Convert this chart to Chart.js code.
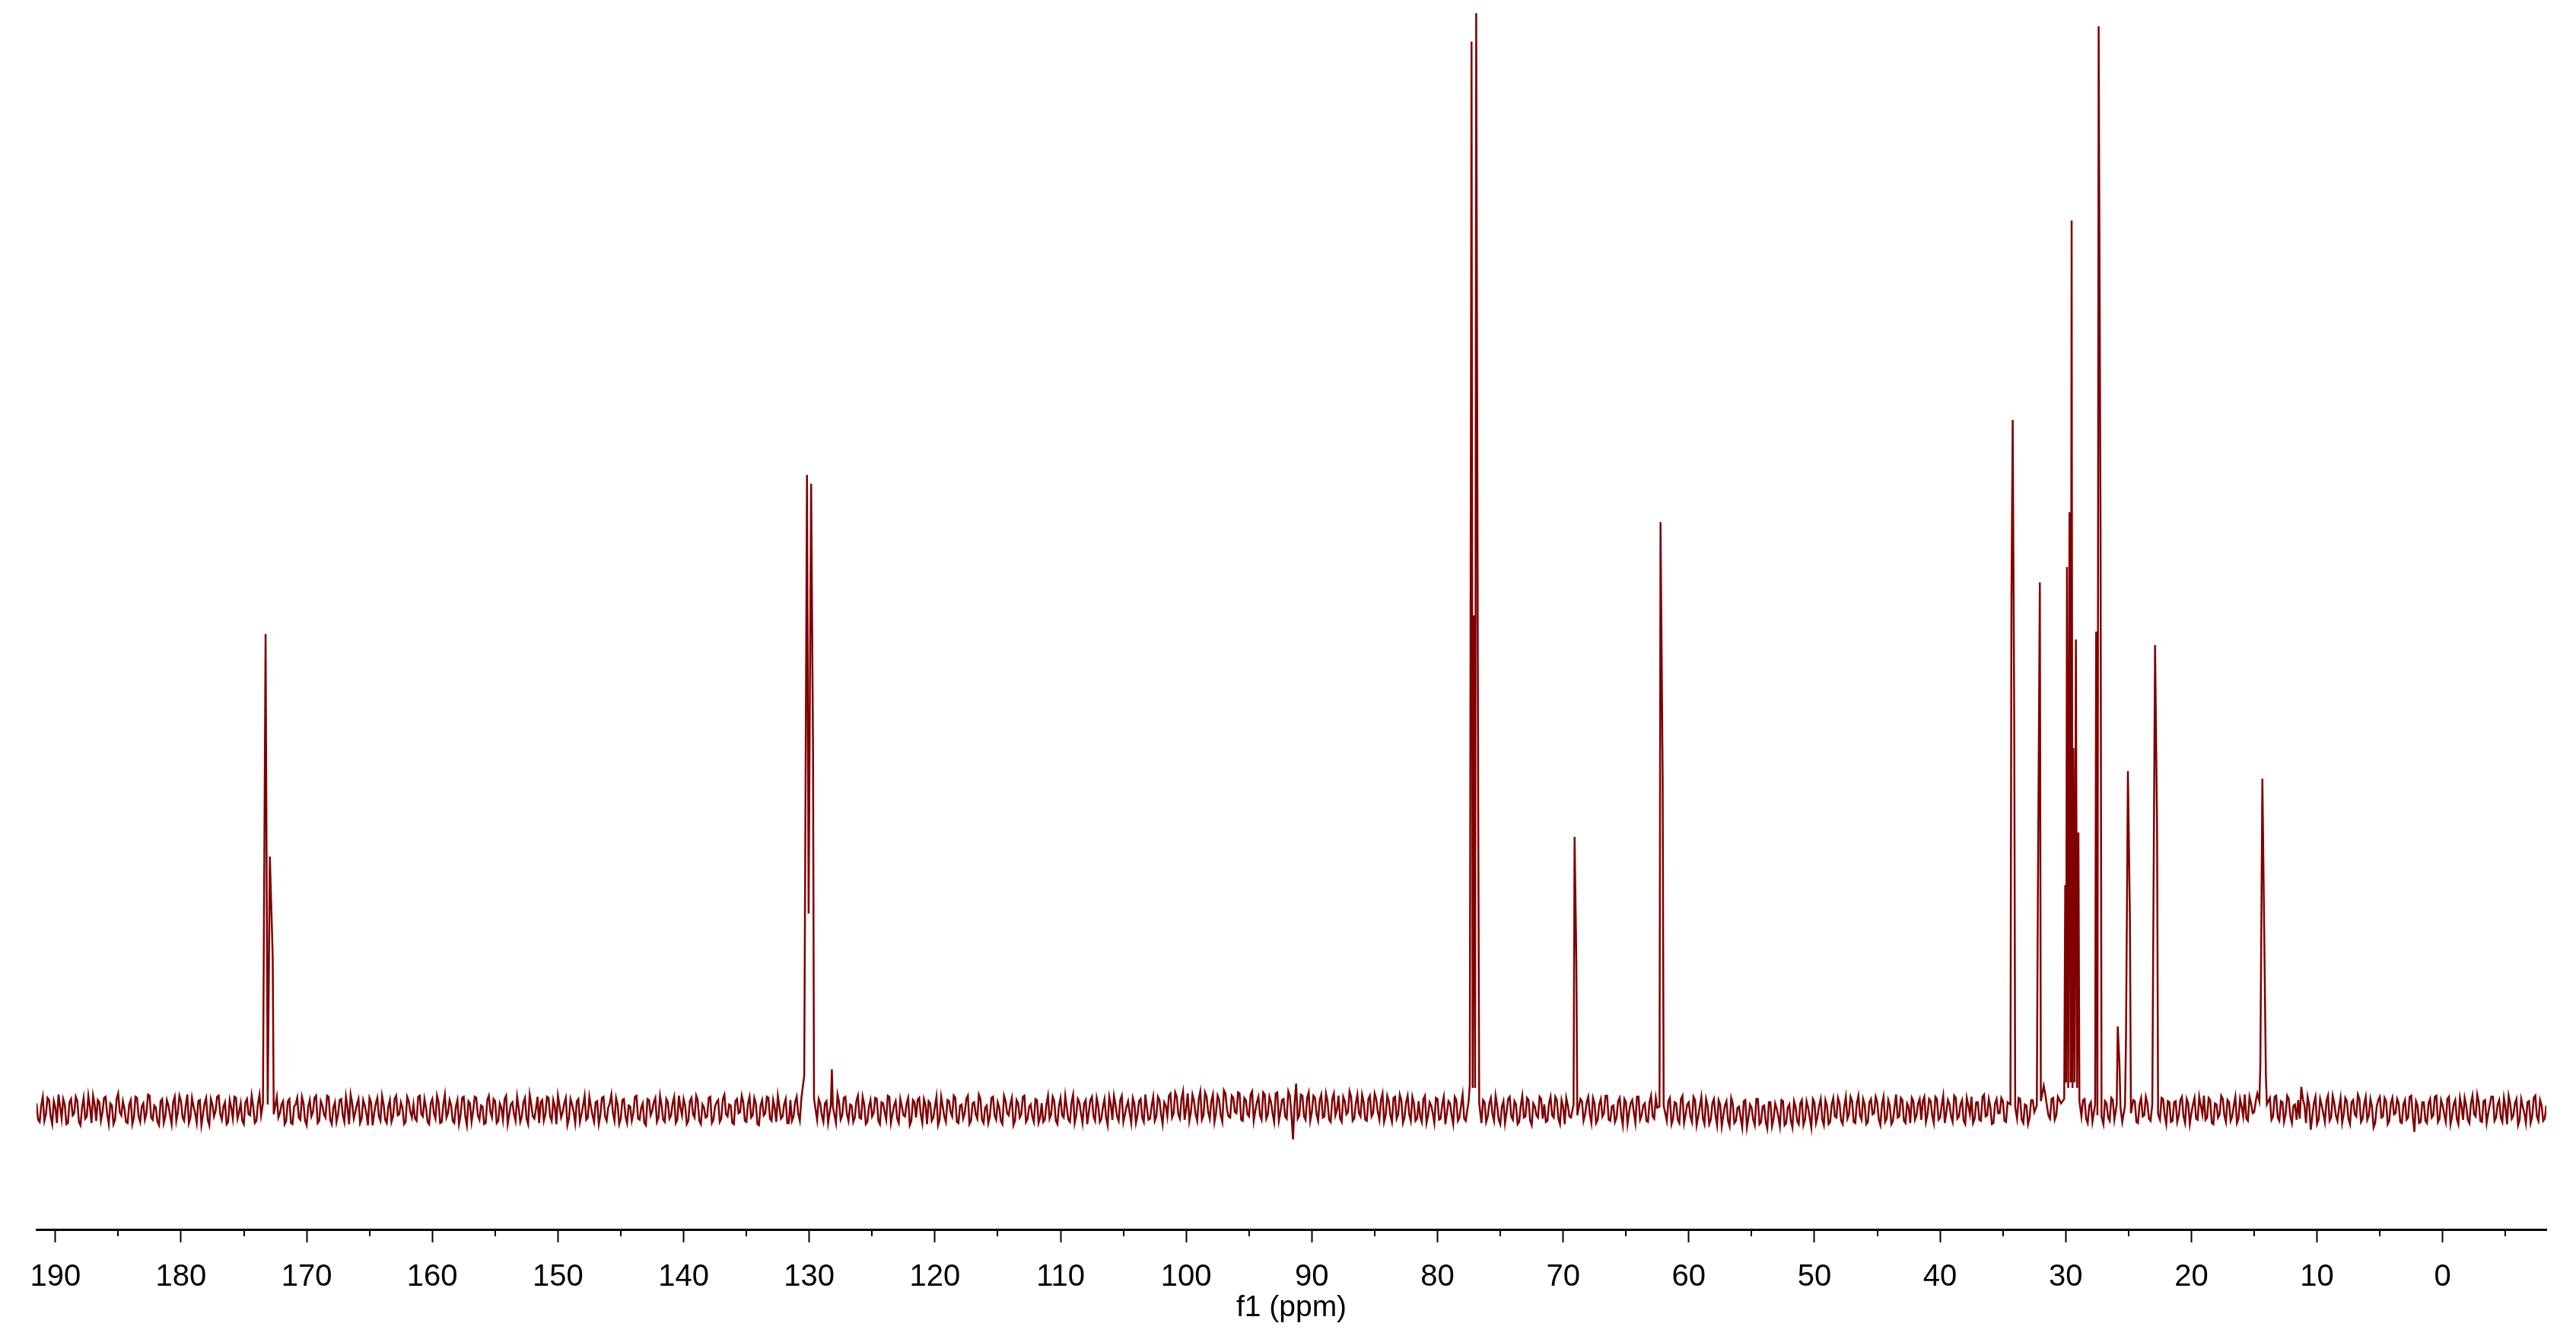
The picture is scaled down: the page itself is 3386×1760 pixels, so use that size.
<!DOCTYPE html>
<html>
<head>
<meta charset="utf-8">
<title>13C NMR spectrum</title>
<script src="https://cdn.jsdelivr.net/npm/chart.js@4.4.0/dist/chart.umd.min.js"></script>
<style>
  html, body { margin: 0; padding: 0; background: #fff; }
  canvas { display: block; }
</style>
</head>
<body>
<canvas id="spectrum" width="3386" height="1760"></canvas>
<script>
'use strict';

// baseline noise, one value every 0.25 ppm from 191.5 down to -8.25
const noiseStart = 191.5;
const noiseStep = 0.25;
const noise = [
  0.6,-1.1,1.2,-0.4,0.9,-1.3,0.2,1.4,-0.8,0.5,-1.2,1.0,-0.3,0.8,-1.4,1.1,-0.6,0.3,1.3,-1.0,0.7,-0.2,1.2,-1.3,0.4,-0.9,1.5,-0.5,0.1,-1.2,0.9,-0.7,1.1,-1.1,0.6,-0.3,1.3,-0.9,0.2,-1.4,
  1.0,-0.6,0.4,-1.3,1.2,-0.2,0.8,-1.0,1.4,-0.7,0.3,-1.2,0.9,-0.4,1.1,-1.4,0.5,-0.1,1.3,-0.9,0.7,-1.1,0.2,1.2,-0.8,0.6,-1.3,1.0,-0.5,0.3,-1.0,1.4,-0.6,0.8,-1.2,0.1,1.1,-0.7,0.5,-1.3,
  0.8,-1.2,0.3,1.1,-0.9,0.6,-1.4,0.9,-0.2,1.3,-1.0,0.4,-0.7,1.2,-1.3,0.7,-0.4,1.0,-1.1,0.2,1.4,-0.8,0.5,-1.2,0.9,-0.3,1.1,-1.4,0.6,-0.6,1.3,-0.9,0.3,-1.1,1.0,-0.5,0.7,-1.3,1.2,-0.2,
  0.5,-1.0,1.3,-0.6,0.2,-1.3,1.0,-0.8,0.7,-1.1,1.4,-0.3,0.4,-1.2,0.9,-0.5,1.2,-1.4,0.6,-0.1,1.1,-0.9,0.3,-1.2,1.3,-0.7,0.8,-1.0,0.2,1.0,-1.3,0.5,-0.4,1.2,-1.1,0.7,-0.8,1.4,-0.6,0.1,
  -1.2,0.9,-0.4,1.1,-1.0,0.3,1.3,-0.7,0.6,-1.4,1.0,-0.2,0.8,-1.1,0.4,-0.9,1.2,-0.5,0.7,-1.3,1.1,-0.6,0.2,1.4,-1.0,0.5,-0.8,1.0,-1.2,0.3,-0.3,1.3,-0.9,0.6,-1.4,0.9,-0.1,1.1,-0.7,0.4,
  -1.1,0.7,-0.5,1.2,-0.9,0.2,1.0,-1.3,0.8,-0.4,1.3,-1.0,0.5,-0.7,1.1,-1.2,0.3,0.9,-0.8,1.4,-0.6,0.4,-1.3,1.0,-0.2,0.7,-1.1,1.2,-0.5,0.6,-1.4,0.9,-0.3,1.1,-1.0,0.2,1.3,-0.8,0.5,-1.2,
  0.9,-0.6,1.2,-1.0,0.4,-1.3,0.7,1.3,-0.8,1.0,-0.5,0.6,-1.2,0.9,-0.3,1.4,-0.9,1.1,-0.4,0.5,-1.1,0.8,-0.7,1.2,-1.3,0.3,-0.6,1.1,-1.0,0.7,-0.2,1.3,-1.2,0.4,-0.8,1.0,-0.5,0.6,-1.4,0.9,
  -0.7,1.1,-1.2,0.5,0.8,-1.0,0.3,-1.4,1.2,-0.6,0.9,-0.2,1.3,-1.1,0.4,-0.8,1.0,-1.3,0.6,-0.4,1.4,-0.9,0.2,-1.2,1.1,-0.5,0.7,-1.0,1.3,-0.3,0.5,-1.4,0.9,-0.7,1.2,-1.1,0.3,-0.6,1.0,-1.2,
  0.6,-0.9,1.3,-0.4,0.8,-1.3,1.1,-0.7,0.2,-1.1,1.4,-0.5,0.7,-1.2,0.9,-0.2,1.2,-1.0,0.4,-0.8,1.0,-1.4,0.5,1.3,-0.6,0.9,-1.1,0.3,-0.3,1.1,-1.2,0.8,-0.7,1.4,-0.9,0.4,-1.0,1.2,-0.4,0.7,
  -0.6,1.5,-0.3,1.2,-0.8,1.7,0.1,-1.0,1.4,-0.4,1.0,-0.9,1.6,-0.2,0.8,-1.1,1.3,-0.5,1.8,0.0,-0.7,1.1,-0.3,1.5,-1.0,0.9,-0.6,1.7,-0.1,1.2,-0.9,1.4,-0.4,0.7,-1.1,1.6,-0.2,1.0,-0.8,1.3,
  -2.7,2.4,-0.5,1.3,-0.9,1.6,-0.2,1.1,-1.0,1.4,-0.6,0.8,-1.1,1.5,0.0,-0.8,1.2,-0.4,1.7,-1.0,0.6,-0.3,1.4,-0.9,1.0,-0.6,1.5,-0.2,0.9,-1.1,1.3,-0.5,1.1,-0.8,1.4,-1.2,0.7,-0.4,1.2,-1.0,
  0.8,-1.1,1.3,-0.5,0.4,-1.2,1.0,-0.8,1.2,-0.3,0.6,-1.3,0.9,-0.7,1.4,-1.0,0.5,0.3,-0.4,0.2,-1.2,0.7,-0.6,1.1,-1.0,0.4,-1.3,0.8,-0.2,1.2,-0.9,0.5,-1.1,1.3,-0.6,0.9,-1.4,0.3,-0.7,1.0,
  0.5,-1.0,1.2,-0.7,0.9,-1.3,0.3,1.1,-0.6,1.4,0.2,-1.1,0.8,-0.4,1.2,-1.2,0.6,-0.9,1.0,-0.3,1.3,-1.0,0.4,-0.7,1.1,-1.4,0.7,-0.2,0.9,-1.2,1.2,-0.5,0.6,-1.1,1.3,-0.8,0.2,0.4,-0.5,-1.0,
  1.1,-0.8,0.6,-1.2,1.3,-0.4,0.7,-1.1,0.9,-0.6,1.2,-1.3,0.4,-0.9,1.0,-1.4,0.5,-0.5,0.8,-1.5,0.6,-1.0,0.3,-1.6,0.9,-0.7,0.2,-1.4,1.0,-1.1,0.4,-1.7,0.7,-0.8,0.1,-1.5,0.8,-1.2,0.5,-1.6,
  0.3,-1.3,0.9,-0.9,0.2,-1.6,0.7,-0.6,1.0,-1.4,0.4,-1.1,1.1,-0.7,0.6,-1.3,1.2,-0.4,0.8,-1.2,1.3,-0.9,0.5,-1.1,1.0,-0.3,0.7,-1.4,1.2,-0.8,0.4,-1.0,1.4,-0.6,0.9,-1.2,0.3,1.1,-0.9,0.6,
  -0.9,1.2,-0.4,0.8,-1.2,1.0,-0.7,1.3,-0.2,0.5,-1.1,1.1,-0.6,0.9,-1.3,0.4,1.2,-0.8,0.7,-1.0,1.4,-0.5,0.3,-1.2,1.0,-0.3,0.8,-1.1,0.6,0.4,-0.3,1.1,-0.9,0.5,-1.3,0.9,-0.2,0.3,0.5,2.2,
  0.4,-0.8,1.1,-0.5,0.9,1.3,0.5,0.5,0.5,0.5,0.5,-0.6,1.0,-1.2,0.7,-0.9,0.3,0.3,-1.3,0.6,-1.0,0.9,-0.4,0.2,-1.1,0.4,0.3,-0.7,0.8,-1.2,1.1,-0.5,0.6,-1.0,0.3,0.3,-0.9,1.0,-1.3,0.7,
  -1.0,0.8,-0.5,1.2,-1.2,0.6,-0.3,1.1,-0.9,0.4,1.3,-0.7,0.9,-1.3,0.5,-0.4,1.0,-1.1,0.7,-0.6,1.2,-0.8,0.3,1.4,-1.0,0.6,-0.2,1.5,0.5,0.5,0.4,1.1,-0.6,1.3,-1.0,0.7,-0.4,1.0,-1.2,0.5,
  0.9,2.1,0.4,1.2,-1.8,0.6,-1.3,1.0,-0.3,0.8,-1.0,1.3,-0.5,0.2,-1.2,1.1,-0.8,0.7,-0.4,1.4,-1.1,0.5,-0.9,1.0,-1.6,0.3,1.2,-0.6,0.8,-1.0,1.1,-0.3,0.6,-1.2,0.9,-0.7,1.3,-2.0,0.4,-1.1,
  0.7,-1.2,1.0,-0.5,1.3,-0.8,0.4,-1.1,1.2,-0.6,0.9,-1.3,0.3,1.1,-0.9,0.6,-0.4,1.4,-1.0,0.8,-1.2,0.5,1.2,-0.7,0.9,-1.1,0.2,1.3,-0.8,0.6,-1.4,1.0,-0.3,0.7,-1.2,1.1,-0.6,0.9,-1.0,0.4
];

// noise samples half way between the ones above (191.375 down to -8.125)
const noiseMid = [
  -0.9,0.4,-1.0,1.1,-0.6,0.8,-1.2,0.3,1.0,-1.3,0.7,-0.5,1.2,-1.1,0.2,-0.8,1.3,-1.2,0.5,0.9,-1.0,1.1,-0.4,0.6,-1.3,1.0,-0.2,0.8,-1.1,0.5,-1.3,1.2,-0.6,0.3,-0.9,1.4,-0.7,0.4,-1.1,0.8,
  -1.2,0.9,-0.5,0.7,-1.0,1.3,-0.7,0.4,-1.2,1.1,-0.3,0.8,-1.4,0.6,-0.9,1.0,-0.6,1.2,-0.4,0.3,-1.3,0.9,-0.8,1.1,-0.2,-1.0,0.7,-0.4,1.3,-1.2,0.6,-0.5,1.0,-1.3,0.4,-0.9,1.2,-0.3,0.8,-1.0,
  1.0,-1.3,0.5,-0.7,1.2,-1.0,0.3,-0.6,1.1,-1.2,0.8,-0.4,1.3,-0.9,0.2,-1.1,0.9,-0.5,1.2,-1.3,0.6,-0.2,1.0,-0.8,0.4,-1.4,0.7,-0.3,1.1,-1.0,0.5,-1.2,0.9,-0.6,1.3,-0.4,0.2,-1.1,0.8,-0.7,
  -0.8,1.2,-0.4,1.0,-1.1,0.6,-0.3,1.3,-1.2,0.5,-0.7,0.9,-1.0,0.3,-1.3,1.1,-0.6,0.8,-1.1,1.2,-0.5,0.4,-1.3,0.9,-0.2,1.0,-1.2,0.6,-0.9,1.3,-0.4,0.7,-1.0,0.2,-0.6,1.1,-1.3,0.5,-0.8,1.2,
  0.7,-1.0,1.2,-0.6,0.9,-1.3,0.4,-0.2,1.1,-0.8,0.5,-1.2,1.0,-0.4,1.3,-0.7,0.3,-1.1,0.8,-0.5,1.2,-1.0,0.6,-0.3,1.1,-1.3,0.9,-0.6,0.4,-1.0,1.2,-0.8,0.2,-1.2,1.0,-0.5,0.7,-1.1,1.3,-0.9,
  1.0,-0.8,0.6,-1.2,1.3,-0.5,0.4,-1.0,1.1,-0.7,0.9,-1.3,0.2,-0.6,1.2,-0.9,0.7,-1.1,1.0,-0.4,0.5,-1.2,0.8,-0.3,1.3,-1.0,0.6,-0.7,1.1,-1.3,0.4,-0.5,1.2,-0.8,0.9,-1.1,0.3,-0.6,1.0,-1.2,
  -1.0,0.7,-0.4,1.1,0.5,0.5,0.5,0.5,-0.9,0.6,-1.1,0.8,0.3,0.3,-1.2,0.7,-0.5,1.2,-1.0,0.4,-0.7,1.3,-0.8,0.5,-1.1,0.9,-0.3,1.0,-1.3,0.6,-0.9,1.2,-0.4,0.8,-1.2,0.3,-0.6,1.1,-1.0,0.7,
  0.9,-0.4,1.0,-1.3,0.6,-0.7,1.2,-0.9,0.3,-1.1,0.8,-0.6,1.1,-1.2,0.5,-0.3,1.3,-1.0,0.7,-0.8,1.0,-1.2,0.4,-0.6,1.2,-0.9,0.2,-1.3,0.8,-0.5,1.1,-1.0,0.6,-0.4,1.3,-0.8,0.5,-1.1,0.9,-0.7,
  -1.1,0.5,-0.8,1.2,-1.0,0.4,-0.5,1.3,-0.9,0.7,-1.2,1.0,-0.3,0.6,-1.3,0.9,-0.6,1.1,-1.1,0.3,-0.7,1.2,-0.9,0.5,-1.0,1.3,-0.4,0.8,-1.2,0.6,-0.5,1.0,-1.1,0.2,-0.8,1.2,-0.6,0.9,-1.3,0.4,
  1.3,-0.7,1.6,-0.4,1.0,-0.9,1.5,-0.2,0.8,-1.0,1.7,-0.5,1.2,-0.8,1.4,-0.3,0.9,-1.1,1.5,-0.6,1.3,-0.2,1.6,-0.9,1.1,-0.4,1.4,-1.0,0.7,-0.5,1.6,-0.8,1.2,-0.3,1.5,-1.0,0.9,-0.6,1.7,-0.4,
  0.6,-0.8,1.4,-0.6,1.1,-1.0,1.3,-0.4,0.9,-0.7,1.5,-0.9,1.0,-0.5,1.3,-1.1,0.8,-0.2,1.2,-0.8,1.4,-0.6,0.7,-1.0,1.3,-0.3,1.0,-0.9,1.5,-0.5,0.8,-1.1,1.2,-0.4,0.9,-0.7,1.3,-1.0,0.6,-0.8,
  -0.6,1.0,-1.2,0.7,-0.3,1.1,-0.9,0.5,-1.3,0.8,-0.5,1.2,-1.0,0.4,-0.8,0.5,0.5,0.5,0.5,0.5,0.9,-1.1,0.6,-0.4,1.3,-0.9,0.3,-1.2,1.0,-0.6,0.8,-1.3,0.4,-0.7,1.1,-1.0,0.6,-0.5,1.2,-0.8,
  -1.1,0.6,-0.5,1.2,-0.8,0.9,-1.3,0.4,-0.7,0.5,0.5,1.0,-1.0,0.7,-0.4,1.1,-1.2,0.5,-0.6,1.3,-0.9,0.3,-1.1,0.8,-0.5,1.0,-1.3,0.6,-0.2,1.2,-0.9,0.4,-1.0,0.7,-0.6,1.1,0.5,0.5,0.4,0.8,
  -1.3,0.7,-0.9,1.0,-1.2,0.5,-0.6,1.2,-1.4,0.3,-0.8,1.0,-1.3,0.6,-0.5,0.9,-1.5,0.4,-1.0,1.1,-1.2,0.2,-0.7,0.8,-1.6,0.5,-0.9,1.0,-1.3,0.3,-1.1,0.7,-1.5,0.6,-0.6,0.9,-1.4,0.2,-1.0,0.8,
  -1.0,0.6,-1.4,0.8,-0.7,1.0,-1.2,0.4,-0.9,0.9,-1.3,0.5,-0.6,1.1,-1.0,0.3,-0.8,1.2,-1.1,0.6,-0.5,1.0,-1.3,0.7,-0.4,1.2,-0.9,0.5,-1.1,0.9,-1.3,0.3,-0.7,1.1,-1.0,0.6,-1.2,0.8,-0.5,1.0,
  0.8,-1.1,1.0,-0.5,1.2,-0.9,0.4,-1.2,0.9,-0.6,1.3,-0.8,0.5,-1.0,1.1,-0.4,-1.2,0.7,-0.9,1.2,-0.6,1.0,-1.3,0.6,-0.3,1.1,-1.0,0.7,0.5,0.5,-0.8,1.0,-1.2,0.4,-0.7,0.9,0.5,0.5,0.6,1.4,
  -0.5,1.0,-0.9,1.2,0.6,0.5,0.5,0.5,0.5,0.5,0.5,0.9,-0.8,0.4,-1.1,0.3,0.3,0.3,0.8,-0.7,1.1,-0.9,0.3,0.3,0.3,0.3,0.3,0.9,-1.1,0.5,-0.6,1.2,-0.8,0.3,0.3,0.3,1.1,-0.5,0.8,-1.1,
  0.7,-1.1,0.9,-0.6,1.0,-1.3,0.5,-0.8,1.2,-0.4,-0.9,1.1,-1.2,0.6,-0.7,1.3,-0.5,0.9,-1.0,0.4,-1.2,1.0,-0.6,-0.8,1.2,-0.3,0.8,0.5,0.5,0.5,0.5,-0.9,1.2,-0.7,0.8,-1.1,1.3,-0.6,0.4,-0.9,
  -0.8,1.0,-1.2,0.5,-0.6,1.2,-0.9,0.4,-1.1,1.3,-0.7,0.6,-1.0,1.1,-0.4,0.8,-1.3,0.9,-0.6,1.0,-0.8,1.2,-0.5,0.3,-1.2,0.9,-0.7,1.1,-1.3,0.6,-0.4,1.0,-1.1,0.5,-0.9,1.2,-0.6,0.8,-1.2,0.7,
  -1.0,0.6,-0.7,1.2,-1.1,0.9,-0.4,1.0,-1.3,0.5,-0.8,1.1,-0.9,0.4,-1.2,1.3,-0.6,0.7,-1.1,0.9,-0.3,1.2,-1.0,0.5,-0.7,1.1,-1.3,0.6,-0.5,1.0,-0.9,0.3,-1.2,0.8,-0.6,1.3,-1.0,0.4,-0.8
];

// resonance lines (ppm) and their heights, tallest line = 100;
// each group starts and ends with the point where it meets the baseline
const peakShifts = [
  173.48, 173.40, 173.27, 173.10, 172.93, 172.70, 172.62,
  130.40, 130.18, 130.05, 129.85, 129.70, 129.62,
  128.28, 128.20, 128.12,
  77.52, 77.43, 77.29, 77.20, 77.10, 77.01, 76.92, 76.76, 76.68,
  69.17, 69.09, 68.95, 68.87,
  62.33, 62.25, 62.08, 62.00,
  34.40, 34.32, 34.22, 34.10, 34.02,
  32.30, 32.22, 32.06, 31.98,
  30.12, 30.04, 29.97, 29.90, 29.80, 29.70, 29.61, 29.53, 29.46, 29.39, 29.29, 29.19, 29.09, 28.99, 28.91,
  27.66, 27.58, 27.48, 27.38, 27.23, 27.15,
  25.94, 25.86, 25.72, 25.64,
  25.28, 25.20, 25.05, 24.89, 24.81,
  23.11, 23.03, 22.89, 22.73, 22.65,
  14.59, 14.51, 14.35, 14.21, 14.07, 13.99
];
const peakHeights = [
  0.6, 16.9, 43.4, 0.5, 23.1, 13.9, -0.4,
  3.1, 57.9, 17.9, 57.1, 33.0, 1.0,
  0.5, 3.7, 0.3,
  0.8, 2.3, 97.4, 2.0, 45.1, 2.0, 100, 27.8, 0.6,
  0.5, 24.9, 13.7, -0.5,
  0.3, 53.6, 30.5, 0.4,
  0.5, 46.4, 62.9, 36.0, 0.2,
  0.4, 18.9, 48.1, 0.8,
  1.0, 20.5, 2.5, 49.5, 2.0, 54.5, 2.5, 81.1, 2.0, 33.0, 2.5, 42.9, 2.0, 25.3, 0.8,
  0.5, 43.6, -0.5, 98.8, 53.0, -0.6,
  0.5, 7.6, 4.1, 0.2,
  0.4, 6.9, 30.9, 17.3, -0.3,
  0.5, 16.4, 42.4, 25.8, -0.4,
  0.8, 4.1, 30.2, 16.9, 3.1, 0.5
];

const majorTicks = [190, 180, 170, 160, 150, 140, 130, 120, 110, 100, 90, 80, 70, 60, 50, 40, 30, 20, 10, 0];
const minorTicks = [185, 175, 165, 155, 145, 135, 125, 115, 105, 95, 85, 75, 65, 55, 45, 35, 25, 15, 5, -5];

// noise samples that sit under a line are left out
const points = [];
function addNoise(x, y) {
  if (peakShifts.some(p => Math.abs(p - x) < 0.13)) return;
  points.push({x, y});
}
noise.forEach((v, i) => addNoise(noiseStart - i * noiseStep, v));
noiseMid.forEach((v, i) => addNoise(noiseStart - noiseStep / 2 - i * noiseStep, v));
peakShifts.forEach((p, i) => points.push({x: p, y: peakHeights[i]}));
points.sort((a, b) => a.x - b.x);

const minorTickPlugin = {
  id: 'minorTicks',
  afterDraw(chart) {
    const scale = chart.scales.x;
    const ctx = chart.ctx;
    ctx.save();
    ctx.strokeStyle = '#000';
    ctx.lineWidth = 2;
    ctx.beginPath();
    minorTicks.forEach(v => {
      const px = Math.round(scale.getPixelForValue(v));
      ctx.moveTo(px, scale.top);
      ctx.lineTo(px, scale.top + 9);
    });
    ctx.stroke();
    ctx.restore();
  }
};

const ctx = document.getElementById('spectrum').getContext('2d');
new Chart(ctx, {
  type: 'line',
  data: {
    datasets: [{
      data: points,
      borderColor: '#800000',
      borderWidth: 2.5,
      pointRadius: 0,
      tension: 0,
      fill: false
    }]
  },
  options: {
    responsive: false,
    animation: false,
    devicePixelRatio: 1,
    parsing: false,
    layout: {
      padding: { left: 48, right: 39, top: 0, bottom: 21 }
    },
    scales: {
      x: {
        type: 'linear',
        reverse: true,
        min: -8.25,
        max: 191.5,
        afterBuildTicks: axis => {
          axis.ticks = majorTicks.map(value => ({ value }));
        },
        grid: {
          drawOnChartArea: false,
          drawTicks: true,
          tickLength: 17,
          tickWidth: 2,
          tickColor: '#000'
        },
        border: { display: true, color: '#000', width: 3 },
        ticks: {
          color: '#000',
          autoSkip: false,
          maxRotation: 0,
          padding: 26,
          font: { family: 'Liberation Sans', size: 40, lineHeight: 1 }
        },
        title: {
          display: true,
          text: 'f1 (ppm)',
          color: '#000',
          padding: { top: -25, bottom: 0 },
          font: { family: 'Liberation Sans', size: 39, lineHeight: 1 }
        }
      },
      y: {
        display: false,
        min: -10.9,
        max: 101.2
      }
    },
    plugins: {
      legend: { display: false },
      tooltip: { enabled: false }
    }
  },
  plugins: [minorTickPlugin]
});
</script>
</body>
</html>
